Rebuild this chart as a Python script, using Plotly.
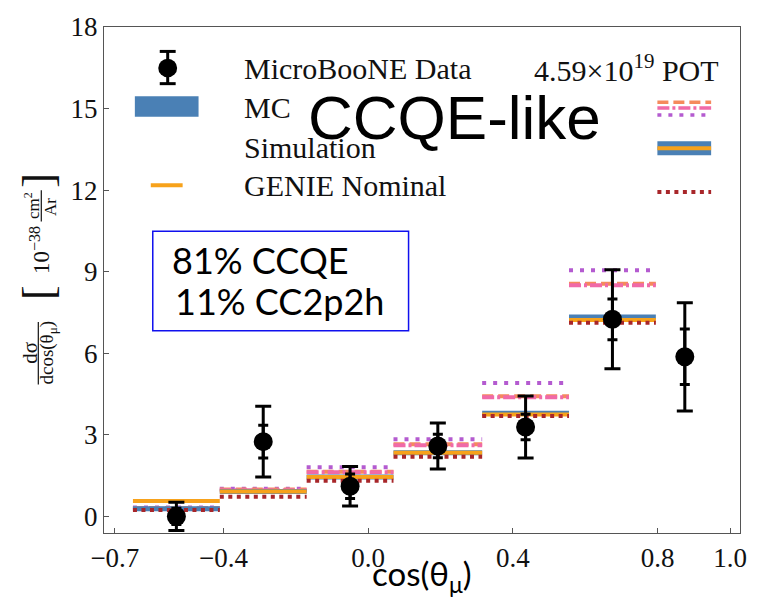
import plotly.graph_objects as go

# ---- binning (cos theta_mu) ----
bin_lo = [-0.65, -0.41, -0.17, 0.07, 0.315, 0.555, 0.795]
bin_hi = [-0.41, -0.17, 0.07, 0.315, 0.555, 0.795, 0.955]

# ---- measured cross section [1e-38 cm^2 / Ar] ----
data_val = [0.00, 2.75, 1.11, 2.59, 3.29, 7.25, 5.87]
err_total = [0.52, 1.30, 0.73, 0.85, 1.14, 1.82, 1.99]
err_stat = [0.30, 0.60, 0.45, 0.43, 0.47, 0.75, 1.02]

# ---- predictions (first six bins) ----
mc_sim = [0.28, 0.92, 1.45, 2.34, 3.79, 7.33]
genie_nominal = [0.57, 0.92, 1.45, 2.34, 3.75, 7.22]
gen_dashed = [0.31, 0.99, 1.64, 2.65, 4.42, 8.56]
gen_dashdot = [0.28, 0.96, 1.62, 2.62, 4.38, 8.50]
gen_dotted = [0.33, 1.02, 1.81, 2.84, 4.91, 9.05]
gen_brown = [0.24, 0.72, 1.31, 2.19, 3.69, 7.12]

x_ticks = [-0.7, -0.4, 0.0, 0.4, 0.8, 1.0]
y_ticks = [0, 3, 6, 9, 12, 15, 18]

C_BLUE = "#4a80b5"
C_ORANGE = "#f7a21b"
C_SALMON = "#f58a5c"
C_PINK = "#f06aa8"
C_PURPLE = "#b45bd0"
C_BROWN = "#a8262a"

SERIF = "Liberation Serif"
SANS = "Liberation Sans"

W, H = 759, 601
L, R, T, B = 104, 743, 15, 533


def fx(p):
    return (p - L) / (R - L)


def fy(p):
    return (B - p) / (B - T)


def steps(values):
    xs, ys = [], []
    for lo, hi, v in zip(bin_lo, bin_hi, values):
        xs += [lo, hi, None]
        ys += [v, v, None]
    return xs, ys


fig = go.Figure()


def add_steps(values, color, width, dash="solid"):
    xs, ys = steps(values)
    fig.add_trace(go.Scatter(x=xs, y=ys, mode="lines", showlegend=False,
                             line=dict(color=color, width=width, dash=dash),
                             hoverinfo="skip"))


add_steps(gen_dotted, C_PURPLE, 4, "4px,7px")
add_steps(gen_dashed, C_SALMON, 4, "11px,5px")
add_steps(gen_dashdot, C_PINK, 4, "12px,3px,3px,3px")
add_steps(mc_sim, C_BLUE, 5)
add_steps(genie_nominal, C_ORANGE, 4)
add_steps(gen_brown, C_BROWN, 4, "4px,4.5px")

centres = [(lo + hi) / 2 for lo, hi in zip(bin_lo, bin_hi)]

# total uncertainty
fig.add_trace(go.Scatter(
    x=centres, y=data_val, mode="markers", showlegend=False,
    marker=dict(size=2, color="black"),
    error_y=dict(type="data", array=err_total, color="black", thickness=3, width=8)))
# statistical uncertainty (inner ticks)
fig.add_trace(go.Scatter(
    x=centres, y=data_val, mode="markers", showlegend=False,
    marker=dict(size=2, color="black"),
    error_y=dict(type="data", array=err_stat, color="black", thickness=3, width=5)))
# data points
fig.add_trace(go.Scatter(
    x=centres, y=data_val, mode="markers", showlegend=False,
    marker=dict(size=19, color="black")))

shapes = []
annotations = []


def hline(x0, x1, y, color, width, dash="solid"):
    shapes.append(dict(type="line", xref="paper", yref="paper",
                       x0=fx(x0), x1=fx(x1), y0=fy(y), y1=fy(y),
                       line=dict(color=color, width=width, dash=dash)))


def vline(x, y0, y1, color, width):
    shapes.append(dict(type="line", xref="paper", yref="paper",
                       x0=fx(x), x1=fx(x), y0=fy(y0), y1=fy(y1),
                       line=dict(color=color, width=width)))


def text(x, y, s, size, family=SERIF, xanchor="left", angle=0, color="#111"):
    annotations.append(dict(xref="paper", yref="paper", x=fx(x), y=fy(y), text=s,
                            showarrow=False, xanchor=xanchor, yanchor="middle",
                            textangle=angle,
                            font=dict(family=family, size=size, color=color)))


# ---- legend, left column ----
vline(168, 40, 73, "black", 3)
hline(160, 176, 40, "black", 3)
hline(160, 176, 73, "black", 3)
shapes.append(dict(type="circle", xref="paper", yref="paper",
                   x0=fx(158.5), x1=fx(177.5), y0=fy(47.5), y1=fy(66.5),
                   fillcolor="black", line=dict(width=0)))
shapes.append(dict(type="rect", xref="paper", yref="paper",
                   x0=fx(135), x1=fx(199), y0=fy(86), y1=fy(107),
                   fillcolor=C_BLUE, line=dict(width=0)))
hline(151, 183, 177, C_ORANGE, 4)

text(243, 57, "MicroBooNE Data", 30)
text(724, 57, "4.59×10<sup>19</sup> POT", 30, xanchor="right")
text(243, 97, "MC", 30)
text(243, 138, "Simulation", 30)
text(243, 177, "GENIE Nominal", 30)

# ---- legend, right column ----
hline(660, 714, 92, C_SALMON, 3.5, "11px,5px")
hline(660, 714, 98, C_PINK, 3.5, "12px,3px,3px,3px")
hline(660, 714, 105, C_PURPLE, 3.5, "4px,7px")
hline(660, 714, 139, C_BLUE, 14)
hline(660, 714, 139, C_ORANGE, 4)
hline(660, 714, 184, C_BROWN, 4, "4px,4.5px")

# ---- big title ----
text(456, 108, "CCQE-like", 62, family=SANS, xanchor="center", color="black")

# ---- composition box ----
shapes.append(dict(type="rect", xref="paper", yref="paper",
                   x0=fx(153), x1=fx(410), y0=fy(224), y1=fy(326),
                   line=dict(color="#1010ee", width=1.5)))
text(170, 254, "81% CCQE", 36, family="Lato", color="black")
text(173, 295, "11% CC2p2h", 36, family="Lato", color="black")

# ---- y-axis label (rotated, stacked fractions) ----
text(30, 348, "dσ", 21, angle=-90, xanchor="center")
vline(38, 317, 381, "#111", 1.2)
text(48, 348, "dcos(θ<sub>μ</sub>)", 19, angle=-90, xanchor="center")
text(38, 287, "[", 44, angle=-90, xanchor="center")
text(40, 243, "10<sup>−38</sup>", 23, angle=-90, xanchor="center")
text(31, 198, "cm<sup>2</sup>", 17, angle=-90, xanchor="center")
vline(41, 182, 214, "#111", 1.2)
text(50, 199, "Ar", 17, angle=-90, xanchor="center")
text(38, 172, "]", 44, angle=-90, xanchor="center")

# ---- x-axis label ----
text(423, 577, "cos(θ<sub>μ</sub>)", 33, family="Lato", xanchor="center", color="black")

axis_common = dict(showline=True, linecolor="#555", linewidth=1.3, mirror=True,
                   ticks="inside", ticklen=5, tickwidth=1, tickcolor="#555",
                   showgrid=False, zeroline=False,
                   tickfont=dict(family=SERIF, size=27, color="#111"))

fig.update_layout(
    width=W, height=H,
    margin=dict(l=L, r=W - R, t=T, b=H - B),
    paper_bgcolor="white", plot_bgcolor="white",
    showlegend=False,
    xaxis=dict(range=[-0.73, 1.0275], tickvals=x_ticks,
               ticktext=[f"{v:.1f}".replace("-", "−") for v in x_ticks],
               **axis_common),
    yaxis=dict(range=[-0.61, 18], tickvals=y_ticks,
               ticktext=[str(v) for v in y_ticks], **axis_common),
    shapes=shapes,
    annotations=annotations,
)

fig.write_html("out.html")
